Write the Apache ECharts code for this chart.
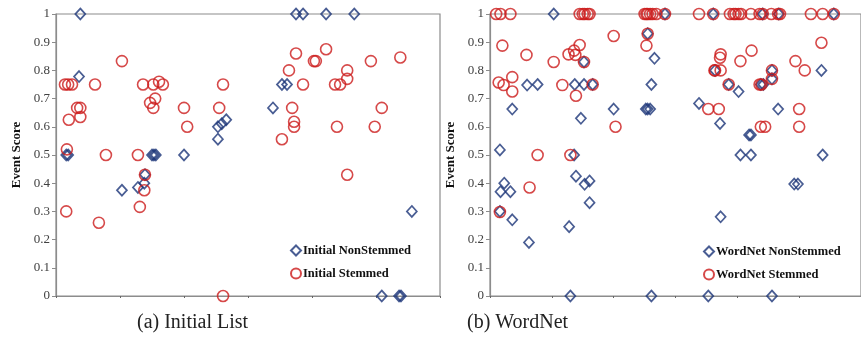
<!DOCTYPE html>
<html>
<head>
<meta charset="utf-8">
<script src="https://cdn.jsdelivr.net/npm/echarts@6/dist/echarts.min.js"></script>
<style>
  html, body { margin: 0; padding: 0; background: #fff; }
  #chart { width: 861px; height: 340px; }
</style>
</head>
<body>
<div id="chart"></div>
<script>
// y ticks 0..1 step 0.1; x has no labels (positions only)
const yTicks = [0, 0.1, 0.2, 0.3, 0.4, 0.5, 0.6, 0.7, 0.8, 0.9, 1];

// (a) Initial List
const initialNonStemmed = [[0.38,1],[0.36,0.778],[0.16,0.5],[0.19,0.5],[1.03,0.375],[1.28,0.385],[1.38,0.4],[1.39,0.43],
  [1.5,0.5],[1.53,0.5],[1.56,0.5],[2.0,0.5],[2.53,0.556],[2.53,0.6],[2.59,0.611],[2.66,0.625],[3.39,0.667],[3.53,0.75],
  [3.61,0.75],[3.75,1],[3.86,1],[4.22,1],[4.66,1],[5.56,0.3],[5.09,0],[5.36,0],[5.39,0]];
const initialStemmed = [[0.14,0.75],[0.19,0.75],[0.25,0.75],[0.61,0.75],[1.36,0.75],[1.52,0.75],[1.61,0.76],[1.67,0.75],
  [0.33,0.667],[0.38,0.667],[0.38,0.635],[0.2,0.625],[0.17,0.52],[0.16,0.3],[0.67,0.26],[0.78,0.5],[1.03,0.833],[1.28,0.5],
  [1.31,0.316],[1.38,0.375],[1.39,0.43],[1.47,0.685],[1.55,0.7],[1.52,0.667],[2.0,0.667],[2.05,0.6],[2.61,0.75],[2.55,0.667],
  [2.61,0],[3.75,0.86],[4.22,0.875],[4.03,0.833],[4.06,0.833],[3.64,0.8],[3.86,0.75],[4.36,0.75],[4.44,0.75],[4.55,0.8],
  [4.55,0.77],[4.92,0.833],[5.38,0.846],[3.69,0.667],[3.72,0.618],[3.72,0.6],[3.53,0.556],[4.39,0.6],[4.55,0.43],[4.98,0.6],
  [5.09,0.667]];

// (b) WordNet
const wordnetNonStemmed = [[0.36,0.663],[0.16,0.518],[0.23,0.4],[0.17,0.37],[0.33,0.37],[0.16,0.3],[0.36,0.27],[0.6,0.748],
  [0.63,0.19],[1.03,1],[0.77,0.75],[1.37,0.75],[1.52,0.75],[1.66,0.75],[2.61,0.75],[1.52,0.83],[2.0,0.663],[2.52,0.663],
  [2.55,0.663],[2.59,0.663],[1.47,0.63],[1.36,0.5],[1.39,0.425],[1.53,0.396],[1.61,0.408],[1.61,0.331],[1.28,0.246],[1.3,0],
  [2.61,0],[2.55,0.93],[2.66,0.843],[2.83,1],[3.61,1],[4.41,1],[4.67,1],[5.56,1],[5.36,0.8],[3.64,0.8],[4.56,0.8],
  [3.86,0.75],[4.38,0.75],[4.42,0.75],[4.56,0.77],[4.02,0.725],[3.38,0.683],[4.66,0.663],[3.72,0.612],[4.19,0.571],
  [4.22,0.571],[4.05,0.5],[4.22,0.5],[5.38,0.5],[4.92,0.397],[4.98,0.397],[3.73,0.281],[3.53,0],[4.56,0]];
const wordnetStemmed = [[0.1,1],[0.17,1],[0.33,1],[1.45,1],[1.5,1],[1.53,1],[1.58,1],[1.61,1],[2.5,1],[2.53,1],[2.55,1],
  [2.59,1],[2.63,1],[2.69,1],[2.83,1],[3.38,1],[3.61,1],[3.88,1],[3.94,1],[3.97,1],[4.02,1],[4.06,1],[4.22,1],[4.36,1],
  [4.41,1],[4.55,1],[4.66,1],[4.69,1],[5.19,1],[5.38,1],[5.56,1],
  [0.2,0.888],[0.14,0.757],[0.22,0.748],[0.36,0.776],[0.36,0.725],[0.16,0.298],[0.59,0.855],[0.64,0.385],[1.03,0.83],
  [1.27,0.857],[1.36,0.87],[1.38,0.855],[1.45,0.89],[1.52,0.83],[1.17,0.748],[1.39,0.71],[1.66,0.75],[2.0,0.922],
  [2.53,0.888],[2.55,0.93],[2.03,0.6],[0.77,0.5],[1.3,0.5],[5.36,0.898],[3.73,0.857],[3.72,0.845],[4.23,0.87],
  [4.05,0.833],[4.94,0.833],[3.63,0.8],[3.64,0.8],[3.73,0.8],[4.56,0.8],[5.09,0.8],[3.86,0.75],[4.36,0.75],[4.39,0.75],
  [4.56,0.77],[3.53,0.663],[3.7,0.663],[5.0,0.663],[4.38,0.6],[4.45,0.6],[5.0,0.6]];

const serif = 'Liberation Serif';
const blue = '#1b3478';
const red = '#cc1c1c';
const axisGray = '#8c8c8c';

const myChart = echarts.init(document.getElementById('chart'));

function xAxisFor(i) {
  return {
    gridIndex: i, type: 'value', min: 0, max: 6, interval: 1,
    axisLine: { lineStyle: { color: axisGray, width: 1.2 } },
    axisTick: { length: 2, lineStyle: { color: '#666' } },
    axisLabel: { show: false },
    splitLine: { show: false }
  };
}
function yAxisFor(i) {
  return {
    gridIndex: i, type: 'value', min: yTicks[0], max: yTicks[yTicks.length - 1], interval: 0.1,
    name: 'Event Score', nameLocation: 'middle', nameGap: 33,
    nameTextStyle: { fontFamily: serif, fontWeight: 'bold', fontSize: 13, color: '#111' },
    axisLine: { show: true, lineStyle: { color: axisGray, width: 1.2 } },
    axisTick: { show: true, length: 4, lineStyle: { color: axisGray } },
    axisLabel: { fontFamily: serif, fontSize: 13, color: '#404040', margin: 6 },
    splitLine: { show: false }
  };
}
function diamonds(name, i, data) {
  return {
    name, type: 'scatter', xAxisIndex: i, yAxisIndex: i, data, clip: false,
    symbol: 'diamond', symbolSize: [10, 11],
    itemStyle: { color: 'rgba(0,0,0,0)', borderColor: blue, borderWidth: 1.7 }
  };
}
function circles(name, i, data) {
  return {
    name, type: 'scatter', xAxisIndex: i, yAxisIndex: i, data, clip: false,
    symbol: 'circle', symbolSize: 11,
    itemStyle: { color: 'rgba(0,0,0,0)', borderColor: red, borderWidth: 1.6 }
  };
}
const legendBase = {
  orient: 'vertical', padding: 0, itemWidth: 10, itemHeight: 10, itemGap: 10,
  textStyle: { fontFamily: serif, fontWeight: 'bold', fontSize: 12.5, color: '#111', padding: [0, 0, 0, -3] }
};

myChart.setOption({
  animation: false,
  backgroundColor: '#fff',
  grid: [
    { left: 56, top: 14, width: 384, height: 282, show: true, borderColor: axisGray, borderWidth: 1.2 },
    { left: 490, top: 14, width: 384, height: 282, show: true, borderColor: axisGray, borderWidth: 1.2 }
  ],
  xAxis: [xAxisFor(0), xAxisFor(1)],
  yAxis: [yAxisFor(0), yAxisFor(1)],
  legend: [
    { ...legendBase, left: 290, top: 244, data: ['Initial NonStemmed', 'Initial Stemmed'] },
    { ...legendBase, left: 703, top: 245, data: ['WordNet NonStemmed', 'WordNet Stemmed'] }
  ],
  series: [
    diamonds('Initial NonStemmed', 0, initialNonStemmed),
    circles('Initial Stemmed', 0, initialStemmed),
    diamonds('WordNet NonStemmed', 1, wordnetNonStemmed),
    circles('WordNet Stemmed', 1, wordnetStemmed)
  ],
  graphic: [
    { type: 'text', left: 137, top: 313, style: { text: '(a) Initial List', font: '20px ' + serif, fill: '#222' } },
    { type: 'text', left: 467, top: 313, style: { text: '(b) WordNet', font: '20px ' + serif, fill: '#222' } }
  ]
});
</script>
</body>
</html>
